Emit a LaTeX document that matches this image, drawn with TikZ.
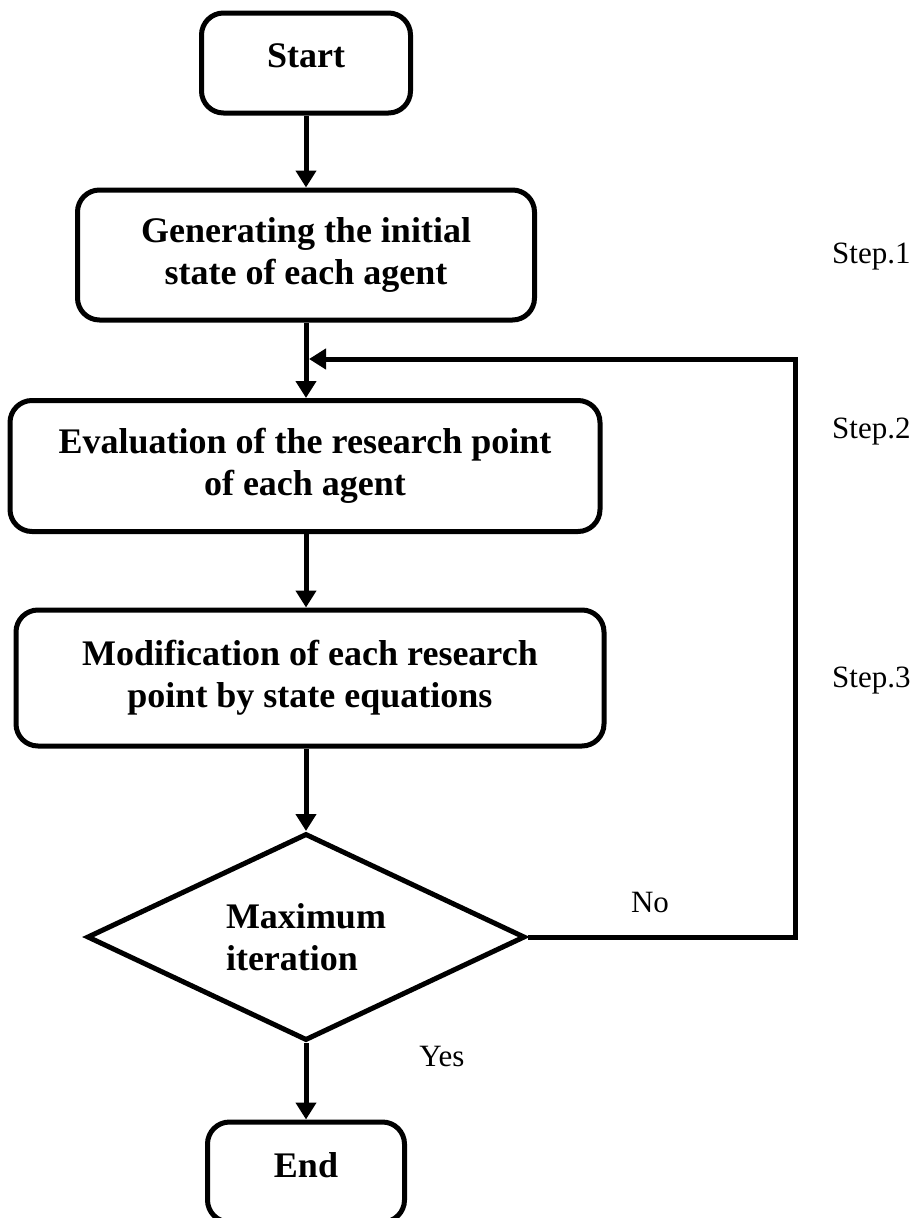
\documentclass[tikz,border=0pt]{standalone}
\usepackage{fontspec}
\setmainfont{Liberation Serif}
\usepackage{tikz}
\usetikzlibrary{arrows.meta,positioning,shapes.geometric,calc}
\newcommand{\boxfont}{\fontsize{36}{42}\selectfont\bfseries}
\newcommand{\notefont}{\fontsize{31}{36}\selectfont}

\begin{document}
\begin{tikzpicture}[
  x=1pt,y=-1pt,
  proc/.style={draw,line width=5pt,rounded corners=22pt,align=center,
               font=\boxfont,inner sep=0pt},
  term/.style={proc,text depth=14pt},
  decision/.style={diamond,draw,line width=5pt,align=left,font=\boxfont,
                   inner sep=0pt,shape aspect=2},
  arr/.style={-{Triangle[length=17pt,width=20pt]},line width=5pt},
  note/.style={font=\notefont,inner sep=0pt}
]
\path[use as bounding box,clip] (0,0) rectangle (922,1218);
% main column
\node[term,minimum width=209pt,minimum height=100pt] (start) at (306,63) {Start};
\node[proc,minimum width=457pt,minimum height=130pt] (gen) at (306,255)
  {Generating the initial\\state of each agent};
\node[proc,minimum width=590pt,minimum height=131pt] (eval) at (305,466)
  {Evaluation of the research point\\of each agent};
\node[proc,minimum width=588pt,minimum height=136pt] (modif) at (310,678)
  {Modification of each research\\point by state equations};
\node[decision,minimum width=438pt,minimum height=207pt] (dec) at (306,937)
  {Maximum\\iteration};
\node[term,minimum width=197pt,minimum height=100pt] (stop) at (306,1172) {End};
% return path
\coordinate (spine) at (306,359);
\coordinate (ret) at (795,359);
\coordinate (join) at (309,359);
% side notes
\node[note,anchor=west] (s1) at (832,257) {Step.1};
\node[note,anchor=west] (s2) at (832,432) {Step.2};
\node[note,anchor=west] (s3) at (832,681) {Step.3};
\node[note] (no) at (650,902) {No};
\node[note] (yes) at (442,1056) {Yes};

\draw[arr] (start) -- (gen);
\draw[arr] (gen.south -| spine) -- (eval.north -| spine);
\draw[arr] (eval.south -| spine) -- (modif.north -| spine);
\draw[arr] (modif.south -| spine) -- (dec);
\draw[arr] (dec) -- (stop);
\draw[arr] (dec.east) -| (ret) -- (join);
\end{tikzpicture}
\end{document}
